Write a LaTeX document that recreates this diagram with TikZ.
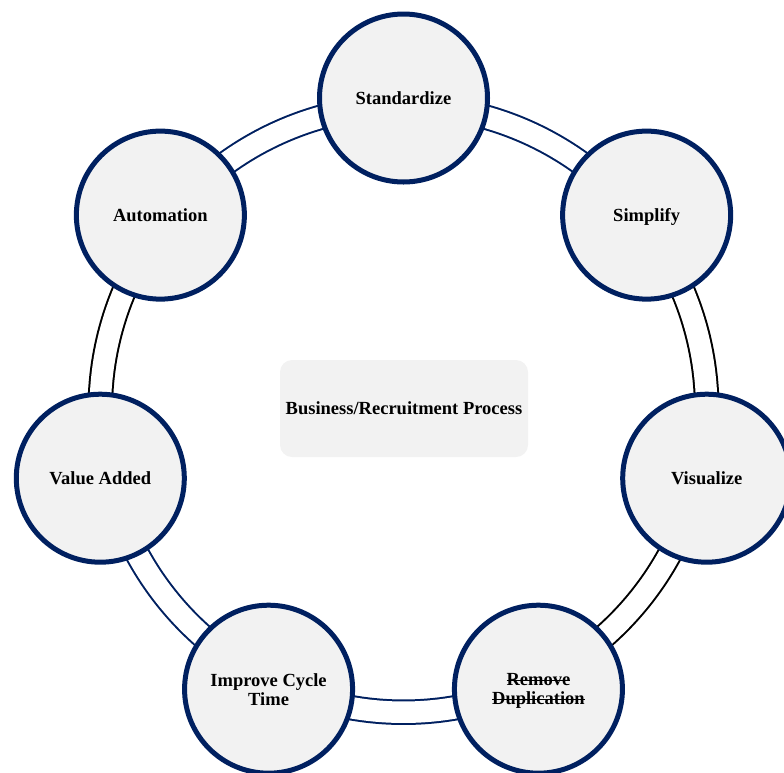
\documentclass[tikz,border=0pt]{standalone}
\usepackage{fontspec}
\setmainfont{Liberation Serif}
\definecolor{navy}{HTML}{002060}
\definecolor{paleg}{HTML}{F2F2F2}
% struck-through text
\newcommand\strk[1]{\setbox0=\hbox{#1}\rlap{\raisebox{0.26em}{\rule{\wd0}{0.07em}}}\box0}
% text whose descenders do not count for centring
\newcommand\nodepth[1]{\raisebox{0pt}[\height][0pt]{#1}}
\begin{document}
\begin{tikzpicture}[x=1pt,y=-1pt,
  stage/.style={circle, draw=navy, line width=5pt, fill=paleg,
    minimum size=168pt, inner sep=0pt, align=center,
    font=\fontsize{18.5}{19}\selectfont\bfseries},
  link/.style={double, double distance=21.5pt, line width=2pt},
  hub/.style={rounded corners=12pt, fill=paleg, minimum width=248pt,
    minimum height=97pt, inner sep=0pt,
    font=\fontsize{18.5}{19}\selectfont\bfseries}]
\useasboundingbox (0,0) rectangle (784,772);
\clip (0,0) rectangle (784,772);
\coordinate (O) at (403.5,409);
% ring of double connectors, drawn first so the circles cover their ends
\foreach \k/\col in {0/navy,1/black,2/black,3/navy,4/navy,5/black,6/navy}{
  \pgfmathsetmacro{\a}{90-\k*360/7}
  \pgfmathsetmacro{\b}{90-(\k+1)*360/7}
  \draw[link, draw=\col] (O) ++(-\a:303.25) arc[start angle=-\a, end angle=-\b, radius=303.25];
}
% stages around the ring
\node[stage] (s0) at ([shift={(-90:311)}]O) {Standardize};
\node[stage] (s1) at ([shift={(-38.571:311)}]O) {\nodepth{Simplify}};
\node[stage] (s2) at ([shift={(12.857:311)}]O) {Visualize};
\node[stage] (s3) at ([shift={(64.286:311)}]O) {\strk{Remove}\\\nodepth{\strk{Duplication}}};
\node[stage] (s4) at ([shift={(115.714:311)}]O) {Improve Cycle\\Time};
\node[stage] (s5) at ([shift={(167.143:311)}]O) {Value Added};
\node[stage] (s6) at ([shift={(218.571:311)}]O) {Automation};
% centre
\node[hub] (hub) at (404,408.5) {Business/Recruitment Process};
\end{tikzpicture}
\end{document}
